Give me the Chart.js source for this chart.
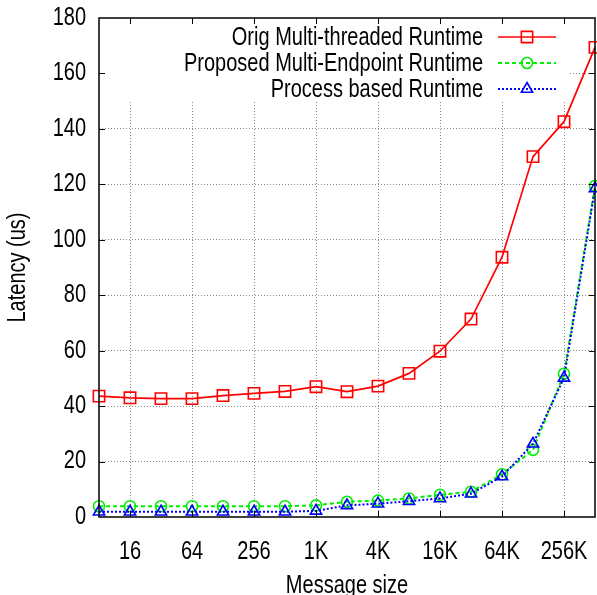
<!DOCTYPE html>
<html>
<head>
<meta charset="utf-8">
<script src="https://cdn.jsdelivr.net/npm/chart.js@4.4.1/dist/chart.umd.min.js"></script>
<style>
  html, body { margin: 0; padding: 0; background: #fff; }
  #wrap { width: 597px; height: 595px; position: relative; }
</style>
</head>
<body>
<div id="wrap"><canvas id="latency" width="597" height="595"></canvas></div>
<script>
const FONT = "'Liberation Sans', Arial, sans-serif";
const FONT_SIZE = 25;
// the original used a narrow sans; squeeze regular glyphs horizontally
const TEXT_SQUEEZE = 0.8;

// message sizes (powers of two, 8 .. 512K)
const messageSizes = ['8', '16', '32', '64', '128', '256', '512', '1K', '2K', '4K', '8K', '16K', '32K', '64K', '128K', '256K', '512K'];
const xTickLabels = ['16', '64', '256', '1K', '4K', '16K', '64K', '256K'];
const yTickValues = [0, 20, 40, 60, 80, 100, 120, 140, 160, 180];

const seriesNames = ['Orig Multi-threaded Runtime', 'Proposed Multi-Endpoint Runtime', 'Process based Runtime'];
const origMultiThreaded = [43.6, 43.0, 42.7, 42.7, 43.8, 44.6, 45.3, 47.0, 45.2, 47.2, 51.8, 59.8, 71.4, 93.7, 130.0, 142.6, 169.4];
const proposedMultiEndpoint = [3.9, 3.9, 3.9, 3.9, 3.9, 3.9, 3.9, 4.2, 5.5, 5.9, 6.7, 8.0, 9.1, 15.4, 24.2, 51.7, 119.4];
const processBased = [1.9, 1.9, 1.9, 1.9, 1.9, 1.9, 1.9, 2.2, 4.2, 4.8, 5.7, 6.7, 8.4, 14.6, 26.4, 50.2, 118.5];

const RED = '#ff0000';
const GREEN = '#00ee00';
const BLUE = '#0000ff';

const styles = [
  { color: RED, dash: [], width: 1.7, point: 'rect', radius: 8 },
  { color: GREEN, dash: [4, 3], width: 2, point: 'circle', radius: 5.5 },
  { color: BLUE, dash: [2, 2], width: 2, point: 'triangle', radius: 6.5 }
];

(function squeezeText() {
  const proto = CanvasRenderingContext2D.prototype;
  const fillText = proto.fillText;
  proto.fillText = function (text, x, y, maxWidth) {
    this.save();
    this.translate(x, y);
    this.scale(TEXT_SQUEEZE, 1);
    if (maxWidth === undefined) fillText.call(this, text, 0, 0);
    else fillText.call(this, text, 0, 0, maxWidth / TEXT_SQUEEZE);
    this.restore();
  };
})();

function drawMarker(ctx, style, x, y) {
  ctx.save();
  ctx.strokeStyle = style.color;
  ctx.lineWidth = 1.6;
  ctx.setLineDash([]);
  ctx.beginPath();
  if (style.point === 'rect') {
    const s = style.radius * Math.SQRT1_2;
    ctx.rect(x - s, y - s, 2 * s, 2 * s);
  } else if (style.point === 'circle') {
    ctx.arc(x, y, style.radius, 0, Math.PI * 2);
  } else {
    const r = style.radius;
    ctx.moveTo(x, y - r);
    ctx.lineTo(x + r * Math.sin(2 * Math.PI / 3), y - r * Math.cos(2 * Math.PI / 3));
    ctx.lineTo(x + r * Math.sin(4 * Math.PI / 3), y - r * Math.cos(4 * Math.PI / 3));
    ctx.closePath();
  }
  ctx.stroke();
  ctx.restore();
}

// gnuplot-like opaque key in the top right
const keyPlugin = {
  id: 'gnuKey',
  beforeDatasetsDraw(chart) {
    const { ctx, chartArea } = chart;
    ctx.save();
    ctx.fillStyle = '#fff';
    ctx.fillRect(chartArea.left + 1, chartArea.top + 1, 568 - chartArea.left, 100 - chartArea.top);
    ctx.font = `${FONT_SIZE}px ${FONT}`;
    ctx.fillStyle = '#000';
    ctx.textAlign = 'right';
    ctx.textBaseline = 'middle';
    seriesNames.forEach((name, i) => {
      const y = 37 + i * 26;
      const st = styles[i];
      ctx.fillText(name, 483, y + 1);
      ctx.strokeStyle = st.color;
      ctx.lineWidth = st.width;
      ctx.setLineDash(st.dash);
      ctx.beginPath();
      ctx.moveTo(498, y);
      ctx.lineTo(556, y);
      ctx.stroke();
      ctx.setLineDash([]);
      drawMarker(ctx, st, 527, y);
    });
    ctx.restore();
  },
  afterDatasetsDraw(chart) {
    const { ctx, chartArea, scales } = chart;
    const { left, right, top, bottom } = chartArea;
    ctx.save();
    ctx.strokeStyle = '#000';
    ctx.lineWidth = 1.5;
    ctx.setLineDash([]);
    ctx.strokeRect(left, top, right - left, bottom - top);
    ctx.lineWidth = 1;
    ctx.beginPath();
    yTickValues.slice(1, -1).forEach((v) => {
      const y = Math.round(scales.y.getPixelForValue(v)) + 0.5;
      ctx.moveTo(left, y); ctx.lineTo(left + 6, y);
      ctx.moveTo(right, y); ctx.lineTo(right - 6, y);
    });
    xTickLabels.forEach((label) => {
      const x = Math.round(scales.x.getPixelForValue(messageSizes.indexOf(label))) + 0.5;
      ctx.moveTo(x, top); ctx.lineTo(x, top + 6);
      ctx.moveTo(x, bottom); ctx.lineTo(x, bottom - 6);
    });
    ctx.stroke();
    ctx.restore();
  }
};

function dataset(label, values, st, order) {
  return {
    label,
    data: values,
    order,
    borderColor: st.color,
    borderWidth: st.width,
    borderDash: st.dash,
    pointStyle: st.point,
    pointRadius: st.radius,
    pointHoverRadius: st.radius,
    pointBorderColor: st.color,
    pointBackgroundColor: 'rgba(0,0,0,0)',
    pointBorderWidth: 1.6,
    tension: 0,
    fill: false,
    clip: false
  };
}

// labels may overhang the plot frame, as gnuplot lets them
function noLabelPadding(scale) {
  scale.paddingTop = 0;
  scale.paddingBottom = 0;
  scale.paddingLeft = 0;
  scale.paddingRight = 0;
}

const gridColor = '#8a8a8a';

new Chart(document.getElementById('latency'), {
  type: 'line',
  data: {
    labels: messageSizes,
    datasets: [
      dataset(seriesNames[0], origMultiThreaded, styles[0], 2),
      dataset(seriesNames[1], proposedMultiEndpoint, styles[1], 1),
      dataset(seriesNames[2], processBased, styles[2], 0)
    ]
  },
  options: {
    responsive: false,
    animation: false,
    devicePixelRatio: 1,
    layout: { autoPadding: false, padding: { top: 18, right: 2, left: 0, bottom: 0 } },
    plugins: {
      legend: { display: false },
      tooltip: { enabled: false }
    },
    scales: {
      x: {
        type: 'category',
        offset: false,
        grid: {
          drawTicks: false,
          lineWidth: 1,
          color(ctx) {
            const label = messageSizes[ctx.index];
            return xTickLabels.includes(label) ? gridColor : 'rgba(0,0,0,0)';
          }
        },
        border: { display: false, dash: [1, 2] },
        ticks: {
          autoSkip: false,
          maxRotation: 0,
          padding: 20,
          color: '#000',
          font: { family: FONT, size: FONT_SIZE },
          callback(value, index) {
            const label = messageSizes[index];
            return xTickLabels.includes(label) ? label : '';
          }
        },
        title: {
          display: true,
          text: 'Message size',
          color: '#000',
          padding: 0,
          font: { family: FONT, size: FONT_SIZE, lineHeight: 0.7 }
        },
        afterFit(scale) {
          scale.height = 78;
          noLabelPadding(scale);
        }
      },
      y: {
        min: 0,
        max: 180,
        grid: {
          drawTicks: false,
          lineWidth: 1,
          color(ctx) {
            const v = ctx.tick && ctx.tick.value;
            return v === 0 || v === 180 ? 'rgba(0,0,0,0)' : gridColor;
          }
        },
        border: { display: false, dash: [1, 2] },
        afterBuildTicks(scale) { scale.ticks = yTickValues.map((value) => ({ value })); },
        ticks: {
          padding: 13,
          color: '#000',
          font: { family: FONT, size: FONT_SIZE }
        },
        title: {
          display: true,
          text: 'Latency (us)',
          color: '#000',
          padding: { top: 8, bottom: 0 },
          font: { family: FONT, size: FONT_SIZE, lineHeight: 0.8 }
        },
        afterFit(scale) {
          scale.width = 99;
          noLabelPadding(scale);
        }
      }
    }
  },
  plugins: [keyPlugin]
});
</script>
</body>
</html>
